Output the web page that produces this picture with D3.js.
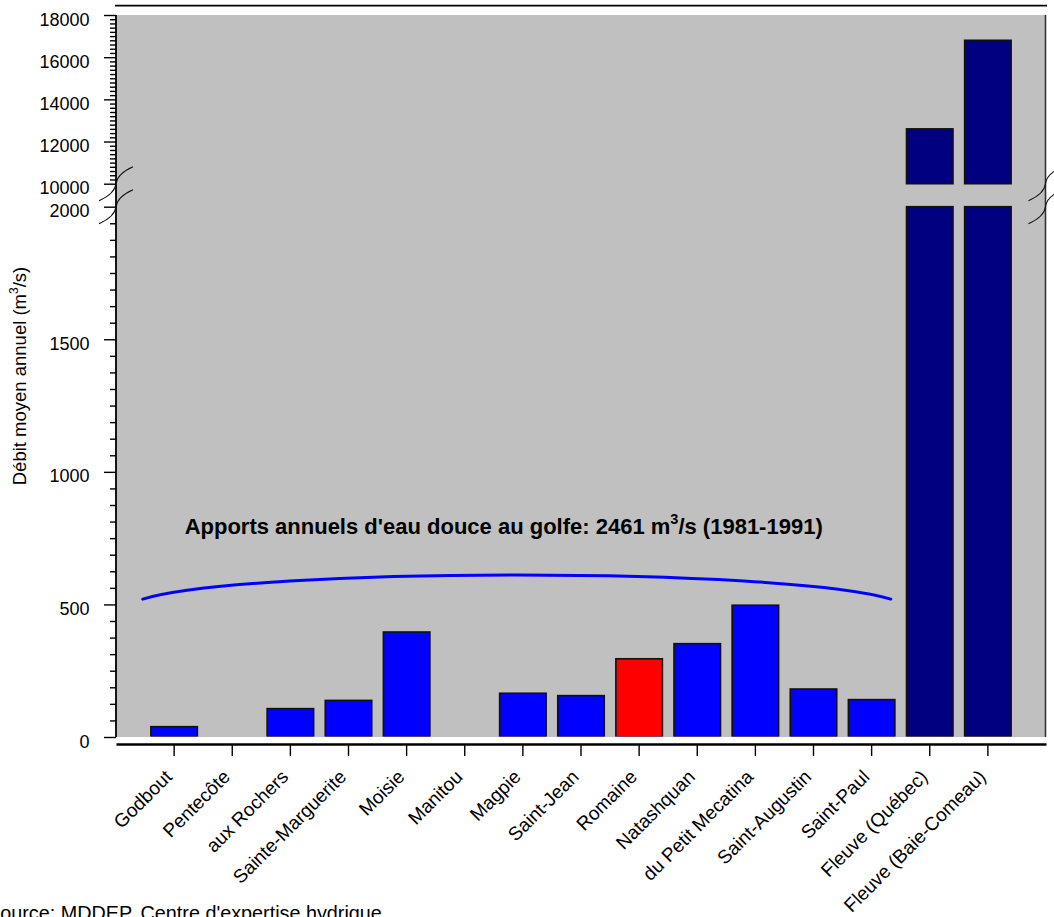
<!DOCTYPE html>
<html>
<head>
<meta charset="utf-8">
<script src="https://cdn.jsdelivr.net/npm/d3@7"></script>
<style>
  body { margin: 0; background: #fff; }
  svg { display: block; font-family: "Liberation Sans", Arial, Helvetica, sans-serif; }
</style>
</head>
<body>
<svg id="chart" width="1054" height="917"></svg>
<script>
// Rivières de la Côte-Nord et fleuve : débit moyen annuel (m3/s)
const categories = [
  "Godbout", "Pentecôte", "aux Rochers", "Sainte-Marguerite", "Moisie", "Manitou",
  "Magpie", "Saint-Jean", "Romaine", "Natashquan", "du Petit Mecatina",
  "Saint-Augustin", "Saint-Paul", "Fleuve (Québec)", "Fleuve (Baie-Comeau)"
];
const debitMoyen = [39, null, 107, 138, 396, null, 165, 156, 295, 352, 497, 181, 141, 12600, 16800];
const groupes = [
  "riviere", "riviere", "riviere", "riviere", "riviere", "riviere",
  "riviere", "riviere", "romaine", "riviere", "riviere",
  "riviere", "riviere", "fleuve", "fleuve"
];
const ticksBas = [0, 500, 1000, 1500, 2000];
const ticksHaut = [10000, 12000, 14000, 16000, 18000];
const domaineBas = [0, 2000];
const domaineHaut = [10000, 18000];
const apportsTotal = 2461;
const periode = "1981-1991";
const source = "Source: MDDEP, Centre d'expertise hydrique";

// Accolade des apports : positions en rang de catégorie et en débit
const arcApports = { debut: -0.54, fin: 12.33, ctrlDebut: 1.30, ctrlFin: 10.49, valeurBouts: 520, valeurCtrl: 641 };
const titreApports = { rang: 5.67, valeur: 767 };

const couleurs = { riviere: "#0000ff", romaine: "#ff0000", fleuve: "#000080" };

const svg = d3.select("#chart");
const plotLeft = 116, plotRight = 1046, plotTop = 15, plotBottom = 737;
const xAxisY = 744;

const x = d3.scaleBand().domain(categories).range([plotLeft, plotRight]).paddingInner(0.2).paddingOuter(0.6);
const step = x.step();
const xRang = r => x(categories[0]) + x.bandwidth() / 2 + r * step;

const yBas = d3.scaleLinear().domain(domaineBas).range([plotBottom, 206.7]);
const yHaut = d3.scaleLinear().domain(domaineHaut).range([183.7, plotTop]);

// fond gris de la zone de tracé
svg.append("rect").attr("x", plotLeft).attr("y", plotTop)
  .attr("width", plotRight - plotLeft).attr("height", plotBottom - plotTop)
  .attr("fill", "#c0c0c0");

// filet supérieur
svg.append("line").attr("x1", plotLeft - 1).attr("x2", plotRight + 1).attr("y1", 5.7).attr("y2", 5.7)
  .attr("stroke", "#000").attr("stroke-width", 1.8);

// barres, coupées en deux segments au-delà de la rupture d'échelle
const segments = [];
categories.forEach((c, i) => {
  const v = debitMoyen[i];
  if (v == null) return;
  segments.push({ c, g: groupes[i], y0: yBas(0), y1: yBas(Math.min(v, domaineBas[1])) });
  if (v > domaineBas[1]) segments.push({ c, g: groupes[i], y0: yHaut(domaineHaut[0]), y1: yHaut(v) });
});

svg.append("clipPath").attr("id", "clip-plot").append("rect")
  .attr("x", plotLeft).attr("y", 0).attr("width", plotRight - plotLeft).attr("height", plotBottom - 0.4);

svg.append("g").attr("clip-path", "url(#clip-plot)")
  .selectAll("rect").data(segments).join("rect")
  .attr("x", d => x(d.c))
  .attr("width", x.bandwidth())
  .attr("y", d => d.y1)
  .attr("height", d => d.y0 - d.y1)
  .attr("fill", d => couleurs[d.g])
  .attr("stroke", "#111")
  .attr("stroke-width", 1.6);

// cadre droit
svg.append("line").attr("x1", plotRight - 0.5).attr("x2", plotRight - 0.5).attr("y1", plotTop).attr("y2", plotBottom)
  .attr("stroke", "#333").attr("stroke-width", 1.6);

// axe vertical
function axeY(scale, majeurs, pasMineur) {
  const g = svg.append("g").attr("transform", `translate(${plotLeft},0)`);
  const mineurs = d3.range(scale.domain()[0], scale.domain()[1] + 1e-6, pasMineur)
    .filter(v => !majeurs.includes(v));
  g.append("g").call(d3.axisLeft(scale).tickValues(mineurs).tickSize(6).tickFormat(""))
    .call(a => a.select(".domain").remove());
  g.append("g").call(d3.axisLeft(scale).tickValues(majeurs).tickSize(12).tickPadding(14.5).tickFormat(d3.format("d")))
    .call(a => a.select(".domain").remove())
    .call(a => a.selectAll("text").attr("dy", "0.56em").attr("font-size", 18).attr("fill", "#000")
      .attr("font-family", "\"Liberation Sans\", Arial, sans-serif"));
  g.selectAll(".tick line").attr("stroke", "#000").attr("stroke-width", 1.4);
}
axeY(yBas, ticksBas, 62.5);
axeY(yHaut, ticksHaut, 200);

svg.append("line").attr("x1", plotLeft).attr("x2", plotLeft).attr("y1", plotTop).attr("y2", plotBottom)
  .attr("stroke", "#000").attr("stroke-width", 1.8);

// marques de rupture d'échelle
const rupture = "M-17,17 C-8,13 -1,8 0,0 S8,-13 17,-17";
[plotLeft, plotRight - 0.5].forEach(px => {
  [yHaut(domaineHaut[0]), yBas(domaineBas[1])].forEach(py => {
    svg.append("path").attr("d", rupture).attr("transform", `translate(${px},${py})`)
      .attr("fill", "none").attr("stroke", "#111").attr("stroke-width", 1.1);
  });
});

// axe horizontal
const gx = svg.append("g").attr("transform", `translate(0,${xAxisY})`)
  .call(d3.axisBottom(x).tickSize(12).tickSizeOuter(0));
gx.select(".domain").attr("stroke", "#000").attr("stroke-width", 2.5);
gx.selectAll(".tick line").attr("stroke", "#000").attr("stroke-width", 1.4);
gx.selectAll(".tick text")
  .attr("x", null).attr("y", null).attr("dy", null)
  .attr("transform", "translate(-1,34) rotate(-45)")
  .attr("text-anchor", "end")
  .attr("font-size", 19).attr("fill", "#000")
  .attr("font-family", "\"Liberation Sans\", Arial, sans-serif");

// titre de l'axe vertical
const ty = svg.append("text")
  .attr("transform", `translate(26,376) rotate(-90)`)
  .attr("text-anchor", "middle").attr("font-size", 18.5).attr("fill", "#000");
ty.append("tspan").text("Débit moyen annuel (m");
ty.append("tspan").attr("font-size", 12).attr("dy", -8).text("3");
ty.append("tspan").attr("dy", 8).text("/s)");

// accolade des apports totaux
const arc = d3.path();
arc.moveTo(xRang(arcApports.debut), yBas(arcApports.valeurBouts));
arc.bezierCurveTo(
  xRang(arcApports.ctrlDebut), yBas(arcApports.valeurCtrl),
  xRang(arcApports.ctrlFin), yBas(arcApports.valeurCtrl),
  xRang(arcApports.fin), yBas(arcApports.valeurBouts));
svg.append("path").attr("d", arc.toString()).attr("fill", "none")
  .attr("stroke", "#0000ff").attr("stroke-width", 3).attr("stroke-linecap", "round");

const tt = svg.append("text")
  .attr("x", xRang(titreApports.rang)).attr("y", yBas(titreApports.valeur))
  .attr("text-anchor", "middle").attr("font-size", 22).attr("font-weight", "bold").attr("fill", "#000");
tt.append("tspan").text(`Apports annuels d'eau douce au golfe: ${apportsTotal} m`);
tt.append("tspan").attr("font-size", 14.5).attr("dy", -9.5).text("3");
tt.append("tspan").attr("dy", 9.5).text(`/s (${periode})`);

// source
svg.append("text").attr("x", -13).attr("y", 920).attr("font-size", 19.8).attr("fill", "#000").text(source);
</script>
</body>
</html>
